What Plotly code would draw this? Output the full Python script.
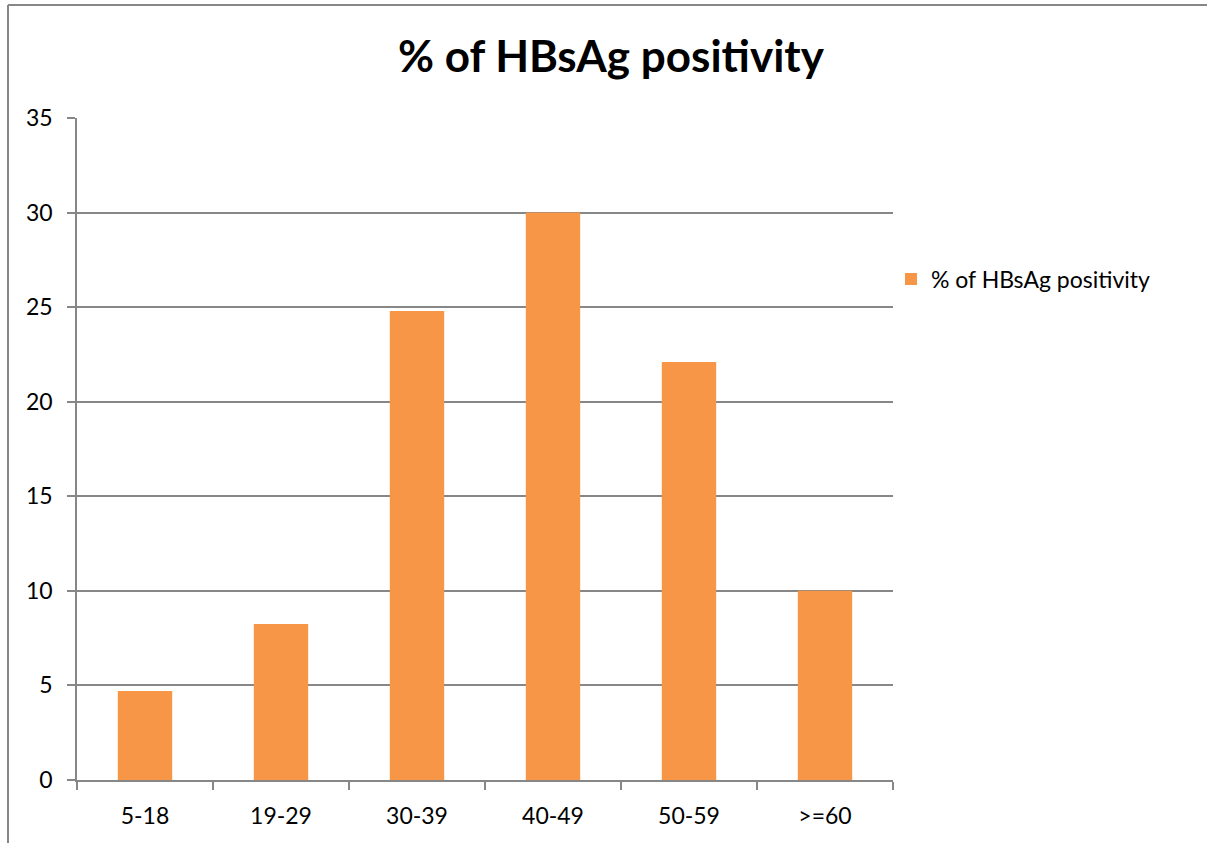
import plotly.graph_objects as go

# Age groups and share of HBsAg-positive cases (%)
age_groups = ["5-18", "19-29", "30-39", "40-49", "50-59", ">=60"]
positivity = [4.7, 8.25, 24.8, 30.0, 22.1, 10.0]
series_name = "% of HBsAg positivity"
y_ticks = [0, 5, 10, 15, 20, 25, 30, 35]

W, H = 1207, 843
ML, MR, MT, MB = 77, 314, 118, 63
plot_w = W - ML - MR
plot_h = H - MT - MB

BAR = "#F79646"
GRID = "#878787"
FONT = "Lato, 'Open Sans', sans-serif"


def px_x(x):
    return (x - ML) / plot_w


def px_y(y):
    return (H - MB - y) / plot_h


fig = go.Figure(
    go.Bar(
        x=age_groups,
        y=positivity,
        name=series_name,
        marker=dict(color=BAR, line=dict(width=0)),
        showlegend=True,
    )
)

fig.update_layout(
    width=W,
    height=H,
    margin=dict(l=ML, r=MR, t=MT, b=MB, autoexpand=False),
    paper_bgcolor="white",
    plot_bgcolor="white",
    bargap=0.6,
    font=dict(family=FONT, size=23, color="#000000"),
    title=dict(
        text="<b>% of HBsAg positivity</b>",
        x=611 / W,
        xanchor="center",
        y=1 - 57 / H,
        yanchor="middle",
        font=dict(family=FONT, size=44, color="#000000"),
    ),
    showlegend=True,
    legend=dict(
        x=px_x(891),
        y=px_y(279),
        xanchor="left",
        yanchor="middle",
        font=dict(family=FONT, size=23),
        itemwidth=30,
        bgcolor="rgba(0,0,0,0)",
    ),
    xaxis=dict(
        type="category",
        showgrid=False,
        showline=True,
        linecolor=GRID,
        linewidth=1.5,
        ticks="outside",
        tickson="boundaries",
        ticklen=8,
        tickwidth=1.5,
        tickcolor=GRID,
        ticklabelstandoff=15,
        tickfont=dict(family=FONT, size=23),
        fixedrange=True,
    ),
    yaxis=dict(
        range=[0, 35],
        tickvals=y_ticks,
        showgrid=True,
        gridcolor=GRID,
        gridwidth=1.5,
        zeroline=False,
        showline=True,
        linecolor=GRID,
        linewidth=1.5,
        ticks="outside",
        ticklen=8,
        tickwidth=1.5,
        tickcolor=GRID,
        ticklabelstandoff=10,
        tickfont=dict(family=FONT, size=23),
        fixedrange=True,
    ),
)

# Outer chart frame (left and top edges)
fig.add_shape(
    type="line", xref="paper", yref="paper",
    x0=px_x(8), x1=px_x(8), y0=px_y(H + 5), y1=px_y(5),
    line=dict(color=GRID, width=2),
)
fig.add_shape(
    type="line", xref="paper", yref="paper",
    x0=px_x(8), x1=px_x(W + 5), y0=px_y(5), y1=px_y(5),
    line=dict(color=GRID, width=2),
)

fig.write_html("out.html")
